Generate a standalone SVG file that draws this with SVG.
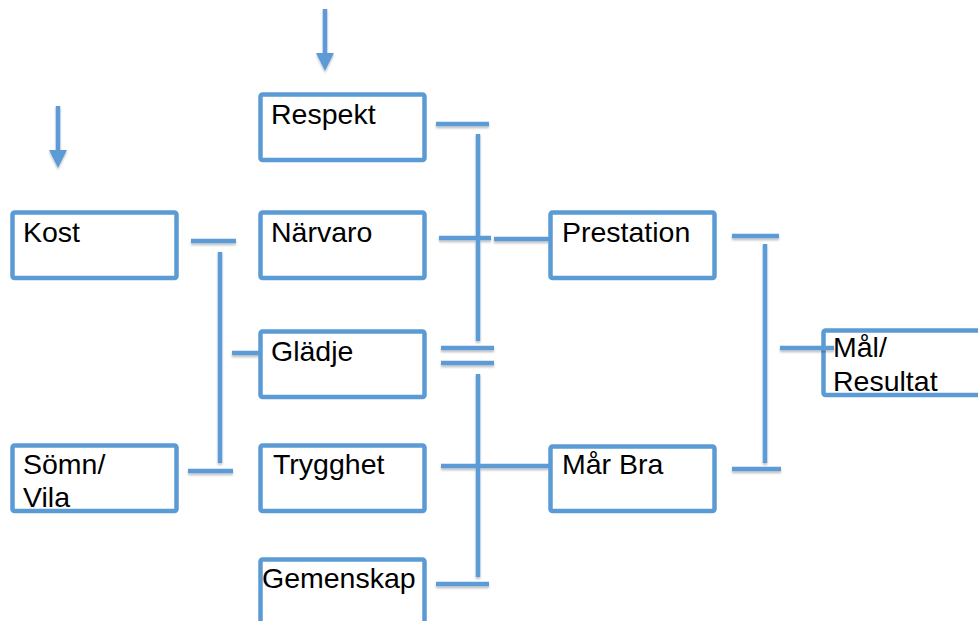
<svg xmlns="http://www.w3.org/2000/svg" width="978" height="621" viewBox="0 0 978 621">
<style>
.box{fill:#fff;stroke:#5B9BD5;stroke-width:4.5}
.ln{stroke:#5B9BD5;stroke-width:4.5;fill:none}
text{font-family:"Liberation Sans",Arial,sans-serif;font-size:28.5px;fill:#000}
</style>
<defs>
<filter id="sh" filterUnits="userSpaceOnUse" x="0" y="0" width="978" height="621">
<feDropShadow dx="0" dy="2" stdDeviation="1.2" flood-color="#000" flood-opacity="0.25"/>
</filter>
<marker id="ah" markerWidth="4" markerHeight="4" refX="0" refY="2" orient="auto" markerUnits="strokeWidth">
<path d="M0,0 L4,2 L0,4 Z" fill="#5B9BD5"/>
</marker>
</defs>
<rect width="978" height="621" fill="#fff"/>
<g id="connectors" filter="url(#sh)">
<line class="ln" x1="325" y1="9" x2="325" y2="53" marker-end="url(#ah)"/>
<line class="ln" x1="58" y1="106" x2="58" y2="150" marker-end="url(#ah)"/>
<line class="ln" x1="191" y1="241" x2="236" y2="241"/>
<line class="ln" x1="220" y1="252" x2="220" y2="463"/>
<line class="ln" x1="232" y1="353" x2="259" y2="353"/>
<line class="ln" x1="188" y1="471" x2="233" y2="471"/>
<line class="ln" x1="436" y1="124" x2="489" y2="124"/>
<line class="ln" x1="478" y1="134" x2="478" y2="341"/>
<line class="ln" x1="439" y1="238" x2="491" y2="238"/>
<line class="ln" x1="494" y1="239" x2="549" y2="239"/>
<line class="ln" x1="441" y1="348" x2="494" y2="348"/>
<line class="ln" x1="441" y1="363" x2="494" y2="363"/>
<line class="ln" x1="478" y1="374" x2="478" y2="577"/>
<line class="ln" x1="441" y1="466" x2="494" y2="466"/>
<line class="ln" x1="494" y1="466" x2="549" y2="466"/>
<line class="ln" x1="436" y1="584" x2="489" y2="584"/>
<line class="ln" x1="732" y1="236" x2="779" y2="236"/>
<line class="ln" x1="765" y1="244" x2="765" y2="463"/>
<line class="ln" x1="732" y1="469" x2="781" y2="469"/>
</g>
<g id="respekt"><rect class="box" x="260.5" y="94.5" width="164" height="65.5" rx="2"/><text x="271" y="124">Respekt</text></g>
<g id="kost"><rect class="box" x="12.5" y="212.5" width="164" height="65.5" rx="2"/><text x="23" y="242">Kost</text></g>
<g id="narvaro"><rect class="box" x="260.5" y="212.5" width="164" height="65.5" rx="2"/><text x="271" y="242">Närvaro</text></g>
<g id="gladje"><rect class="box" x="260.5" y="331.5" width="164" height="65.5" rx="2"/><text x="271" y="361">Glädje</text></g>
<g id="somn"><rect class="box" x="12.5" y="445.5" width="164" height="65.5" rx="2"/><text x="23" y="474">Sömn/</text><text x="23" y="507">Vila</text></g>
<g id="trygghet"><rect class="box" x="260.5" y="445.5" width="164" height="65.5" rx="2"/><text x="273" y="474">Trygghet</text></g>
<g id="gemenskap"><rect class="box" x="260.5" y="559.5" width="164" height="70" rx="2"/><text x="262" y="588">Gemenskap</text></g>
<g id="prestation"><rect class="box" x="550.5" y="212.5" width="164" height="65.5" rx="2"/><text x="562" y="242">Prestation</text></g>
<g id="marbra"><rect class="box" x="550.5" y="446.5" width="164" height="64.5" rx="2"/><text x="562" y="474">Mår Bra</text></g>
<g id="mal"><rect class="box" x="823.5" y="330.5" width="200" height="64.5" rx="2"/><g filter="url(#sh)"><line class="ln" x1="780" y1="348" x2="834" y2="348"/></g><text x="833" y="357">Mål/</text><text x="833" y="391">Resultat</text></g>
</svg>
